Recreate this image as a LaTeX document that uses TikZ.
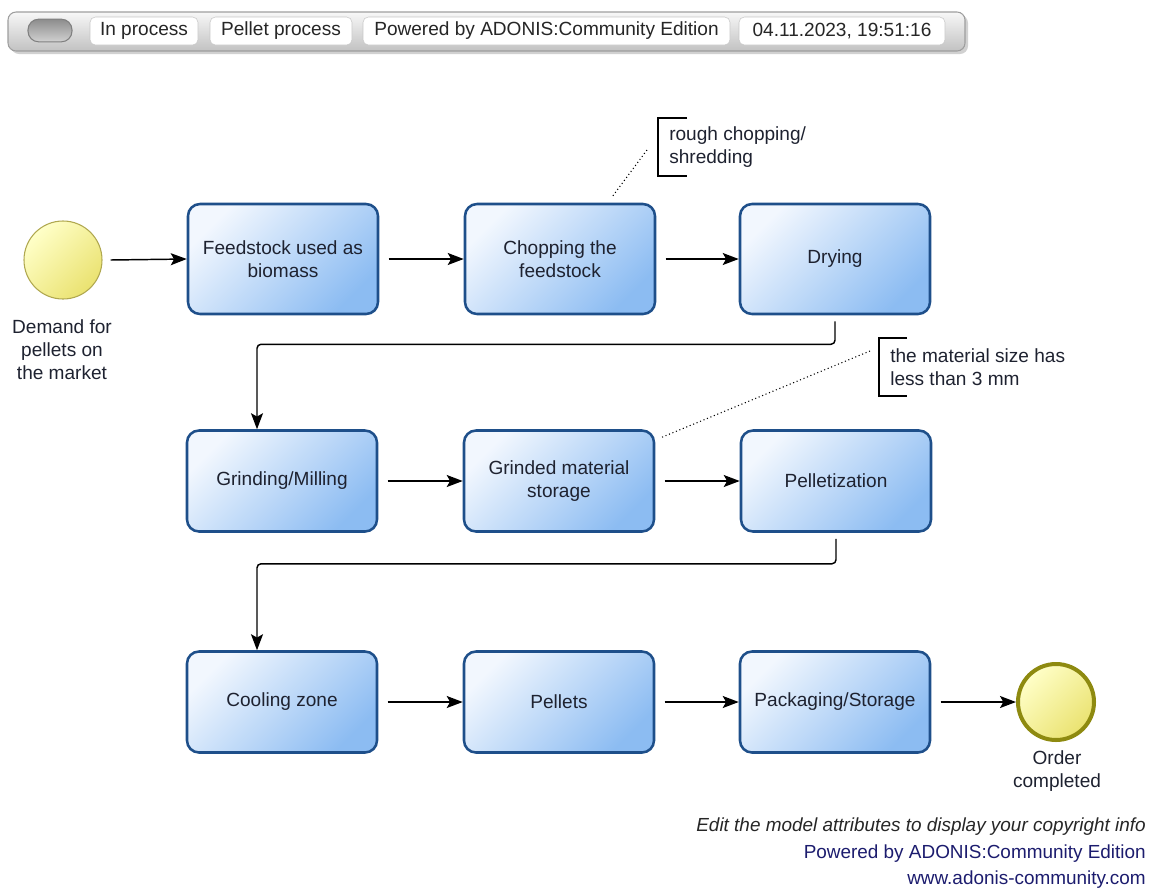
\documentclass[tikz,border=0pt]{standalone}
\usepackage{fontspec}
\setmainfont{Liberation Sans}
\usetikzlibrary{arrows.meta,calc}
\definecolor{boxlight}{HTML}{F2F7FE}
\definecolor{boxdark}{HTML}{8CBCF2}
\definecolor{boxborder}{HTML}{1E4F8A}
\definecolor{txt}{HTML}{1E2230}
\definecolor{evlight}{HTML}{FFFFC8}
\definecolor{evdark}{HTML}{EAE270}
\definecolor{evborder}{HTML}{B0A850}
\definecolor{endborder}{HTML}{8E8A10}
\definecolor{navy}{HTML}{1C1C6E}
\begin{document}
\begin{tikzpicture}[x=0.75pt,y=-0.75pt,
  bodyfont/.style={font=\fontsize{14.3}{17.25}\selectfont},
  proc/.style={draw=boxborder, line width=1.9pt, rounded corners=9pt,
    minimum width=142.5pt, minimum height=75.75pt,
    top color=boxlight, bottom color=boxdark, shading angle=45,
    bodyfont, text=txt, align=center, inner sep=2pt},
  tall/.style={minimum height=82.5pt},
  arr/.style={-{Stealth[length=12pt,width=9pt,inset=2.5pt]}, line width=1.1pt, black},
  evlabel/.style={bodyfont, text=txt, align=center, inner sep=0pt},
  notetext/.style={bodyfont, text=txt, align=left, inner sep=0pt, anchor=west},
  tag/.style={draw=black!22, fill=white, rounded corners=4pt, minimum height=21pt,
    inner sep=0pt, bodyfont, text=black!85},
  notelink/.style={dotted, line width=0.8pt, black},
  bracket/.style={line width=0.8pt, black},
  foot/.style={anchor=east, inner sep=0pt, font=\fontsize{14.2}{17}\selectfont}
]
\useasboundingbox (0,0) rectangle (1150,890);

% ---- top bar ----
\fill[black!18, rounded corners=6pt] (11,15) rectangle (968,54);
\draw[draw=black!38, line width=0.8pt, rounded corners=6pt, top color=black!3, bottom color=black!24] (8,12) rectangle (965,51);
\node[draw=black!50, line width=0.8pt, rounded corners=8pt, minimum width=33pt, minimum height=17pt,
      inner sep=0pt, top color=black!45, bottom color=black!18] (pill) at (50,30.5) {};
\node[tag, minimum width=81pt] (t1) at (144,31) {In process};
\node[tag, minimum width=106.5pt] (t2) at (281,31) {Pellet process};
\node[tag, minimum width=275.25pt] (t3) at (546.5,31) {Powered by ADONIS:Community Edition};
\node[tag, minimum width=154.5pt] (t4) at (842,31) {04.11.2023, 19:51:16};

% ---- events ----
\node[circle, draw=evborder, line width=0.8pt, minimum size=58.5pt, inner sep=0pt,
      top color=evlight, bottom color=evdark, shading angle=45] (start) at (63,260) {};
\node[evlabel] (startlbl) at (62,350) {Demand for\\pellets on\\the market};

\node[circle, draw=endborder, line width=3pt, minimum size=57pt, inner sep=0pt,
      top color=evlight, bottom color=evdark, shading angle=45] (end) at (1056,702) {};
\node[evlabel] (endlbl) at (1057,771) {Order\\completed};

% ---- activities ----
\node[proc, tall] (feed) at (283,259) {Feedstock used as\\biomass};
\node[proc, tall] (chop) at (560,259) {Chopping the\\feedstock};
\node[proc, tall] (dry)  at (835,259) {Drying};

\node[proc] (grind) at (282,481) {Grinding/Milling};
\node[proc] (grd)   at (559,481) {Grinded material\\storage};
\node[proc] (pel)   at (836,481) {Pelletization};

\node[proc] (cool) at (282,702) {Cooling zone};
\node[proc] (pelt) at (559,702) {Pellets};
\node[proc] (pack) at (835,702) {Packaging/Storage};

% ---- connectors ----
\draw[arr] ([xshift=6pt]start.east) -- (feed.west);
\draw[arr] ([xshift=7pt]feed.east) -- (chop.west);
\draw[arr] ([xshift=7pt]chop.east) -- (dry.west);
\draw[arr, rounded corners=3pt] ([yshift=-4.5pt]dry.south) -- ++(0,23) -| ([xshift=-18.75pt]grind.north);
\draw[arr] ([xshift=7pt]grind.east) -- (grd.west);
\draw[arr] ([xshift=7pt]grd.east) -- (pel.west);
\draw[arr, rounded corners=3pt] ([yshift=-4.5pt]pel.south) -- ++(0,25) -| ([xshift=-18.75pt]cool.north);
\draw[arr] ([xshift=7pt]cool.east) -- (pelt.west);
\draw[arr] ([xshift=7pt]pelt.east) -- (pack.west);
\draw[arr] ([xshift=7pt]pack.east) -- (end.west);

% ---- notes ----
\node[notetext] (note1) at (669,147) {rough chopping/\\shredding};
\draw[bracket] (687,118) -- (658,118) -- (658,176) -- (687,176);
\coordinate (n1a) at (647,150);
\coordinate (n1b) at (612,197);
\draw[notelink] (n1a) -- (n1b);

\node[notetext] (note2) at (890,367) {the material size has\\less than 3 mm};
\draw[bracket] (907,338) -- (879,338) -- (879,396) -- (907,396);
\coordinate (n2a) at (870,351);
\coordinate (n2b) at (660,438);
\draw[notelink] (n2a) -- (n2b);

% ---- footer ----
\node[foot, font=\fontsize{14.2}{17}\selectfont\itshape, text=black!85] (f1) at (1146,827) {Edit the model attributes to display your copyright info};
\node[foot, text=navy] (f2) at (1146,854) {Powered by ADONIS:Community Edition};
\node[foot, text=navy] (f3) at (1146,880) {www.adonis-community.com};
\end{tikzpicture}
\end{document}
